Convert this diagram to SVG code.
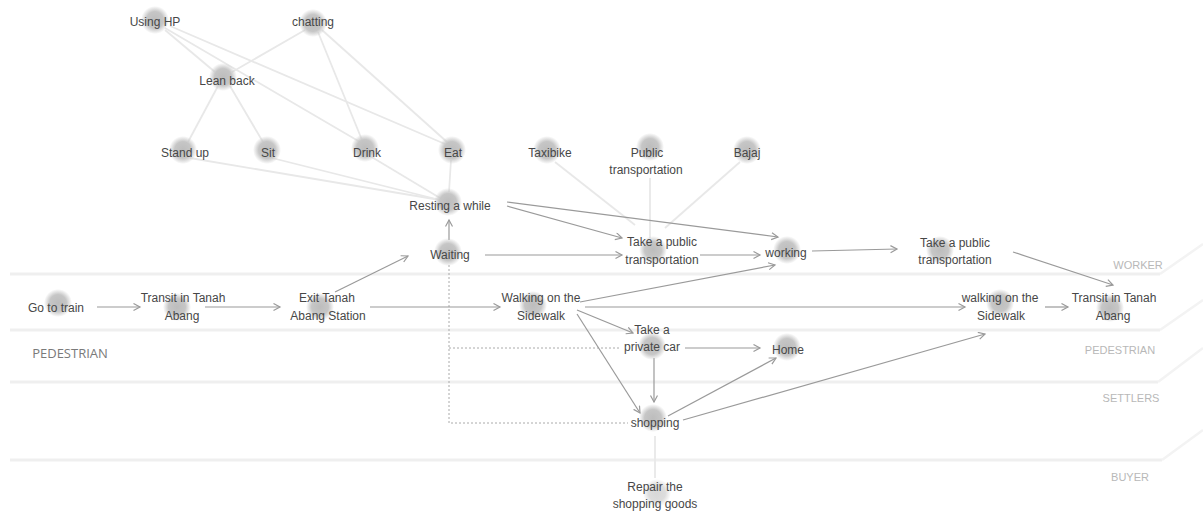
<svg xmlns="http://www.w3.org/2000/svg" width="1203" height="511" viewBox="0 0 1203 511">
<style>
text{font-family:"Liberation Sans",Arial,sans-serif;font-size:12px;fill:#474747;text-anchor:middle}
.lane{fill:none;stroke:#efefef;stroke-width:3}
.lanediag{fill:none;stroke:#f3f3f3;stroke-width:2.5}
.lanelbl{font-size:11px;fill:#b8b8b8}
.light{fill:none;stroke:#e8e8e8;stroke-width:1.8}
.arr{fill:none;stroke:#9a9a9a;stroke-width:1.2;marker-end:url(#ah)}
.dash{fill:none;stroke:#aaaaaa;stroke-width:1;stroke-dasharray:2 2}
.dot{fill:url(#blob)}
</style>
<defs>
<radialGradient id="blob">
<stop offset="0" stop-color="#bdbdbd"/>
<stop offset="0.6" stop-color="#c6c6c6"/>
<stop offset="1" stop-color="#c6c6c6" stop-opacity="0"/>
</radialGradient>
<marker id="ah" markerWidth="9" markerHeight="9" refX="7" refY="4" orient="auto" markerUnits="userSpaceOnUse">
<path d="M0.5,0.5 L7,4 L0.5,7.5" fill="none" stroke="#9a9a9a" stroke-width="1.2"/>
</marker>
</defs>
<rect width="1203" height="511" fill="#ffffff"/>
<g id="lanes">
<path class="lane" d="M10,274 H1160"/>
<path class="lanediag" d="M1160,274 L1203,244"/>
<path class="lane" d="M10,330 H1160"/>
<path class="lanediag" d="M1160,330 L1203,300"/>
<path class="lane" d="M10,382 H1158"/>
<path class="lanediag" d="M1158,382 L1203,348"/>
<path class="lane" d="M10,460 H1162"/>
<path class="lanediag" d="M1162,460 L1203,430"/>
<text x="70" y="358" style="font-family:'Open Sans',sans-serif;font-size:13px;fill:#7a7a7a">PEDESTRIAN</text>
<text class="lanelbl" x="1138" y="269">WORKER</text>
<text class="lanelbl" x="1120" y="354">PEDESTRIAN</text>
<text class="lanelbl" x="1131" y="402">SETTLERS</text>
<text class="lanelbl" x="1130" y="481">BUYER</text>
</g>
<g id="connectors">
<path class="light" d="M165,30 L215,72"/>
<path class="light" d="M165,28 L360,142"/>
<path class="light" d="M170,26 L445,144"/>
<path class="light" d="M305,30 L232,72"/>
<path class="light" d="M318,32 L362,140"/>
<path class="light" d="M322,30 L447,142"/>
<path class="light" d="M218,86 L188,142"/>
<path class="light" d="M230,86 L263,142"/>
<path class="light" d="M190,158 L440,200"/>
<path class="light" d="M272,158 L440,200"/>
<path class="light" d="M370,156 L440,198"/>
<path class="light" d="M451,160 L449,192"/>
<path class="light" d="M555,162 L635,225"/>
<path class="light" d="M650,178 L650,238"/>
<path class="light" d="M740,162 L665,228"/>
<path class="light" d="M655,436 L655,478"/>
<path class="dash" d="M449,265 V423 H628"/>
<path class="dash" d="M449,348 H620"/>
<path class="arr" d="M97,307 L140,307"/>
<path class="arr" d="M205,307 L280,307"/>
<path class="arr" d="M370,307 L500,307"/>
<path class="arr" d="M335,292 L408,256"/>
<path class="arr" d="M449,240 L449,220"/>
<path class="arr" d="M485,255 L622,255"/>
<path class="arr" d="M700,255 L760,255"/>
<path class="arr" d="M507,206 L622,238"/>
<path class="arr" d="M507,202 L778,237"/>
<path class="arr" d="M580,302 L775,265"/>
<path class="arr" d="M812,251 L897,249"/>
<path class="arr" d="M1013,252 L1113,285"/>
<path class="arr" d="M585,307 L965,307"/>
<path class="arr" d="M1045,307 L1068,307"/>
<path class="arr" d="M577,310 L633,333"/>
<path class="arr" d="M577,314 L640,413"/>
<path class="arr" d="M685,348 L760,348"/>
<path class="arr" d="M654,358 L654,402"/>
<path class="arr" d="M668,416 L776,358"/>
<path class="arr" d="M683,420 L985,334"/>
</g>
<g id="n-using-hp"><circle class="dot" cx="155" cy="20" r="14"/><text x="155" y="26">Using HP</text></g>
<g id="n-chatting"><circle class="dot" cx="313" cy="23" r="14"/><text x="313" y="26">chatting</text></g>
<g id="n-lean-back"><circle class="dot" cx="223" cy="77" r="14"/><text x="227" y="85">Lean back</text></g>
<g id="n-stand-up"><circle class="dot" cx="183" cy="150" r="14"/><text x="185" y="157">Stand up</text></g>
<g id="n-sit"><circle class="dot" cx="267" cy="150" r="14"/><text x="268" y="157">Sit</text></g>
<g id="n-drink"><circle class="dot" cx="365" cy="148" r="14"/><text x="367" y="157">Drink</text></g>
<g id="n-eat"><circle class="dot" cx="452" cy="150" r="14"/><text x="453" y="157">Eat</text></g>
<g id="n-taxibike"><circle class="dot" cx="547" cy="150" r="14"/><text x="550" y="157">Taxibike</text></g>
<g id="n-public-transportation"><circle class="dot" cx="650" cy="147" r="14"/><text x="647" y="157">Public</text><text x="646" y="174">transportation</text></g>
<g id="n-bajaj"><circle class="dot" cx="747" cy="150" r="14"/><text x="747" y="157">Bajaj</text></g>
<g id="n-resting"><circle class="dot" cx="448" cy="202" r="14"/><text x="450" y="210">Resting a while</text></g>
<g id="n-waiting"><circle class="dot" cx="448" cy="252" r="14"/><text x="450" y="259">Waiting</text></g>
<g id="n-take-public-1"><circle class="dot" cx="653" cy="250" r="14"/><text x="662" y="246">Take a public</text><text x="662" y="264">transportation</text></g>
<g id="n-working"><circle class="dot" cx="787" cy="250" r="14"/><text x="786" y="257">working</text></g>
<g id="n-take-public-2"><circle class="dot" cx="940" cy="250" r="14"/><text x="955" y="247">Take a public</text><text x="955" y="264">transportation</text></g>
<g id="n-go-to-train"><circle class="dot" cx="58" cy="303" r="14"/><text x="56" y="312">Go to train</text></g>
<g id="n-transit-1"><circle class="dot" cx="177" cy="307" r="14"/><text x="183" y="302">Transit in Tanah</text><text x="182" y="320">Abang</text></g>
<g id="n-exit"><circle class="dot" cx="320" cy="307" r="14"/><text x="327" y="302">Exit Tanah</text><text x="328" y="320">Abang Station</text></g>
<g id="n-walking-1"><circle class="dot" cx="533" cy="305" r="14"/><text x="541" y="302">Walking on the</text><text x="541" y="320">Sidewalk</text></g>
<g id="n-walking-2"><circle class="dot" cx="1000" cy="303" r="14"/><text x="1000" y="302">walking on the</text><text x="1001" y="320">Sidewalk</text></g>
<g id="n-transit-2"><circle class="dot" cx="1110" cy="308" r="14"/><text x="1114" y="302">Transit in Tanah</text><text x="1113" y="320">Abang</text></g>
<g id="n-private-car"><circle class="dot" cx="652" cy="346" r="14"/><text x="652" y="334">Take a</text><text x="652" y="351">private car</text></g>
<g id="n-home"><circle class="dot" cx="787" cy="347" r="14"/><text x="788" y="354">Home</text></g>
<g id="n-shopping"><circle class="dot" cx="653" cy="418" r="14"/><text x="655" y="427">shopping</text></g>
<g id="n-repair"><circle class="dot" cx="657" cy="493" r="14" opacity="0.6"/><text x="655" y="491">Repair the</text><text x="655" y="508">shopping goods</text></g>
</svg>
